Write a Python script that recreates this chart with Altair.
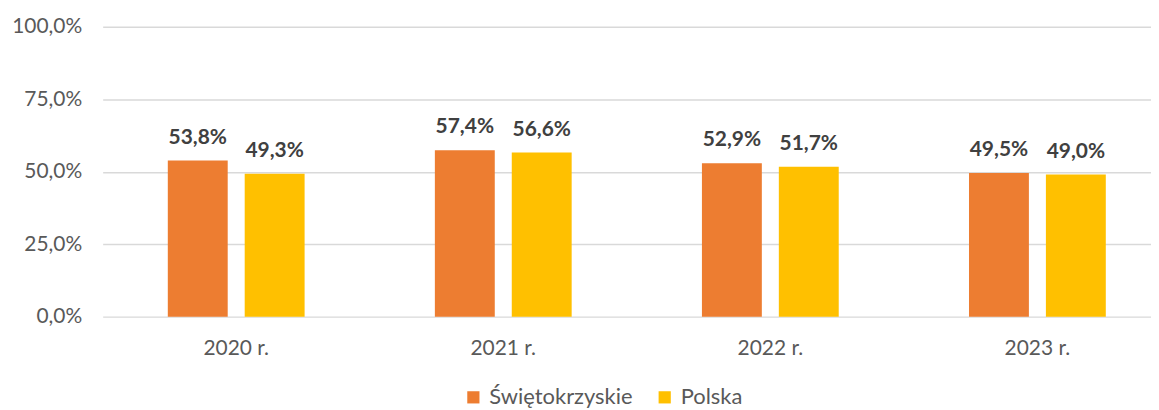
import altair as alt
import pandas as pd

years = ["2020 r.", "2021 r.", "2022 r.", "2023 r."]
series = ["Świętokrzyskie", "Polska"]
swietokrzyskie = [53.8, 57.4, 52.9, 49.5]
polska = [49.3, 56.6, 51.7, 49.0]
colors = ["#ED7D31", "#FFC000"]

rows = []
for i, y in enumerate(years):
    rows.append({"year": y, "series": series[0], "value": swietokrzyskie[i] / 100})
    rows.append({"year": y, "series": series[1], "value": polska[i] / 100})
df = pd.DataFrame(rows)

FONT = "Lato"

x = alt.X("year:N", sort=years, title=None,
          scale=alt.Scale(range=[-1, 1071], paddingInner=0, paddingOuter=0),
          axis=alt.Axis(labelAngle=0, ticks=False, domain=False, labelFontSize=21,
                        labelColor="#595959", labelFont=FONT, labelPadding=21))
xo = alt.XOffset("series:N", sort=series,
                 scale=alt.Scale(paddingInner=0.221, paddingOuter=0.847))
y = alt.Y("value:Q", title=None,
          scale=alt.Scale(domain=[0, 1], nice=False),
          axis=alt.Axis(values=[0, 0.25, 0.5, 0.75, 1], ticks=False, domain=False,
                        labelFontSize=21, labelColor="#595959", labelFont=FONT,
                        labelPadding=22, gridColor="#D9D9D9", gridWidth=1.5,
                        labelExpr="replace(format(datum.value, '.1%'), '.', ',')"))

bars = alt.Chart(df).mark_bar().encode(
    x=x, xOffset=xo, y=y,
    color=alt.Color("series:N", sort=series,
                    scale=alt.Scale(domain=series, range=colors),
                    legend=alt.Legend(title=None, orient="none", legendX=360, legendY=361,
                                      direction="horizontal", symbolType="square",
                                      symbolSize=150, symbolStrokeWidth=0,
                                      labelFontSize=22, labelColor="#595959",
                                      labelFont=FONT, labelOffset=5, columnPadding=21)),
)

labels = alt.Chart(df).mark_text(
    baseline="alphabetic", dy=-17, fontSize=21, fontWeight="bold",
    color="#404040", font=FONT
).encode(
    x=x, xOffset=xo, y=y,
    text=alt.Text("label:N"),
).transform_calculate(
    label="replace(format(datum.value, '.1%'), '.', ',')"
)

chart = alt.layer(bars, labels).properties(
    width=1051, height=291,
    autosize=alt.AutoSizeParams(type="none"),
    padding={"left": 96, "top": 18, "right": 0, "bottom": 94},
    background="white",
).configure_view(stroke=None)

chart.save("out.html", embed_options={"renderer": "svg", "actions": False})
